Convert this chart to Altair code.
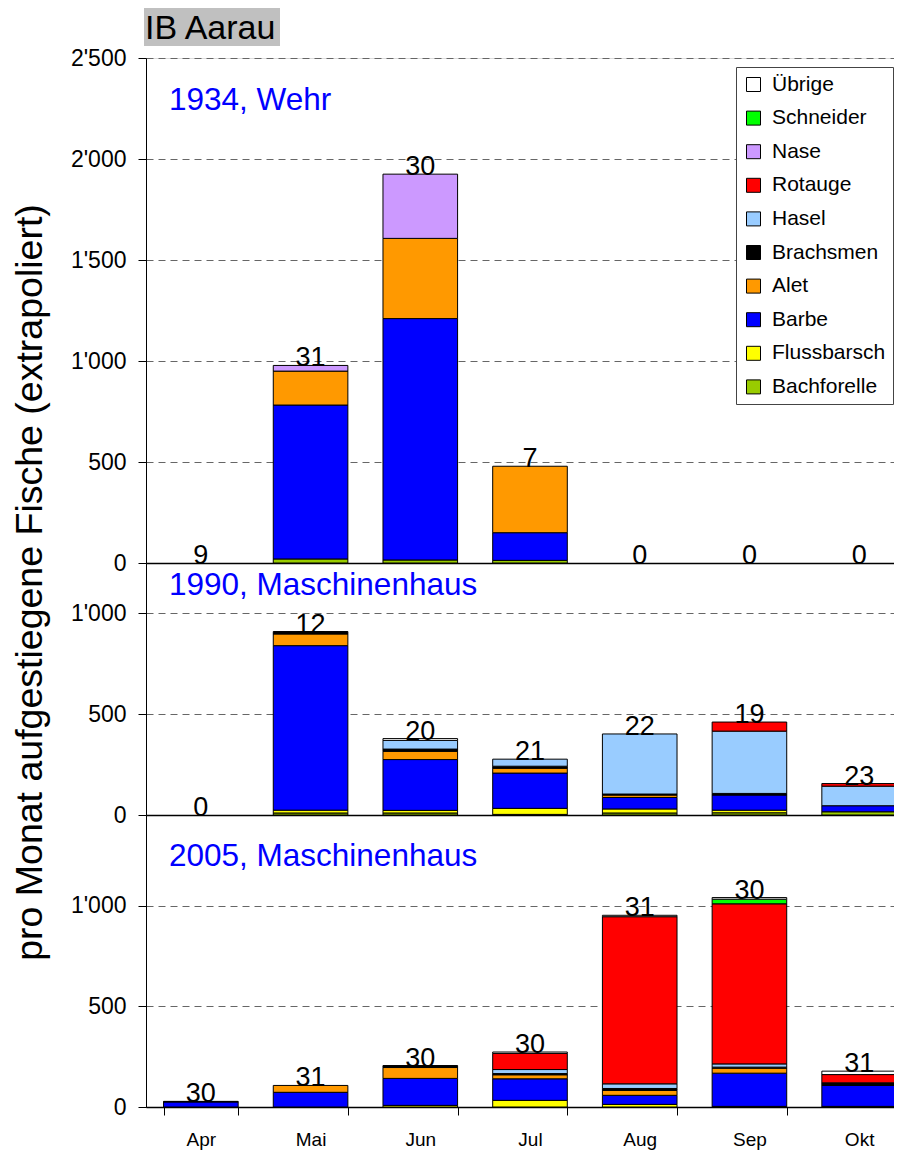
import altair as alt
import pandas as pd

months = ["Apr", "Mai", "Jun", "Jul", "Aug", "Sep", "Okt"]
species = ["Übrige", "Schneider", "Nase", "Rotauge", "Hasel", "Brachsmen",
           "Alet", "Barbe", "Flussbarsch", "Bachforelle"]
colors = ["#FFFFFF", "#00FF00", "#CC99FF", "#FF0000", "#99CCFF", "#000000",
          "#FF9900", "#0000FF", "#FFFF00", "#99CC00"]

# 1934, Wehr
fish_1934 = {
    "Bachforelle": [0, 20, 15, 13, 0, 0, 0],
    "Flussbarsch": [0, 0, 0, 0, 0, 0, 0],
    "Barbe":       [0, 762, 1195, 137, 0, 0, 0],
    "Alet":        [0, 168, 397, 329, 0, 0, 0],
    "Brachsmen":   [0, 0, 0, 0, 0, 0, 0],
    "Hasel":       [0, 0, 0, 0, 0, 0, 0],
    "Rotauge":     [0, 0, 0, 0, 0, 0, 0],
    "Nase":        [0, 28, 318, 0, 0, 0, 0],
    "Schneider":   [0, 0, 0, 0, 0, 0, 0],
    "Übrige":      [0, 0, 0, 0, 0, 0, 0],
}
days_1934 = [9, 31, 30, 7, 0, 0, 0]

# 1990, Maschinenhaus
fish_1990 = {
    "Bachforelle": [0, 10, 10, 3, 10, 11, 16],
    "Flussbarsch": [0, 14, 13, 30, 20, 13, 0],
    "Barbe":       [0, 816, 252, 175, 57, 75, 30],
    "Alet":        [0, 58, 41, 24, 12, 0, 0],
    "Brachsmen":   [0, 12, 11, 10, 5, 8, 0],
    "Hasel":       [0, 0, 43, 35, 298, 309, 97],
    "Rotauge":     [0, 0, 0, 0, 0, 45, 13],
    "Nase":        [0, 0, 0, 0, 0, 0, 0],
    "Schneider":   [0, 0, 0, 0, 0, 0, 0],
    "Übrige":      [0, 0, 9, 0, 0, 0, 0],
}
days_1990 = [0, 12, 20, 21, 22, 19, 23]

# 2005, Maschinenhaus
fish_2005 = {
    "Bachforelle": [0, 0, 0, 0, 0, 3, 3],
    "Flussbarsch": [0, 0, 8, 33, 13, 0, 0],
    "Barbe":       [25, 73, 134, 107, 45, 165, 104],
    "Alet":        [0, 34, 54, 20, 24, 25, 0],
    "Brachsmen":   [3, 0, 10, 6, 10, 5, 13],
    "Hasel":       [0, 0, 0, 20, 23, 16, 0],
    "Rotauge":     [0, 0, 0, 80, 830, 795, 41],
    "Nase":        [0, 0, 0, 0, 0, 0, 0],
    "Schneider":   [0, 0, 0, 0, 0, 23, 0],
    "Übrige":      [0, 0, 0, 7, 7, 8, 17],
}
days_2005 = [30, 31, 30, 30, 31, 30, 31]

panel_titles = ["1934, Wehr", "1990, Maschinenhaus", "2005, Maschinenhaus"]
y_title = "pro Monat aufgestiegene Fische (extrapoliert)"
main_title = "IB Aarau"

stack_order = list(reversed(species))  # Bachforelle at bottom


def make_df(fish, days):
    rows = []
    for sp in stack_order:
        for i, m in enumerate(months):
            rows.append({"month": m, "species": sp, "value": fish[sp][i],
                         "order": stack_order.index(sp), "days": days[i]})
    return pd.DataFrame(rows)


FONT = "Liberation Sans"

# bands ~110px wide; the last band runs past the visible right edge as in the reference
xscale = alt.Scale(domain=months, range=[0, 768], paddingInner=0.32, paddingOuter=0.16)
xaxis = alt.Axis(title=None, tickBand="extent", ticks=True, tickSize=8, tickColor="black",
                 domainColor="black", labelFontSize=19, labelFont=FONT, labelColor="black",
                 labelPadding=15, labelAngle=0, grid=False)

legend = alt.Legend(orient="none", legendX=590, legendY=9, title=None, fillColor="white",
                    strokeColor="#444444", padding=7, rowPadding=11.6, symbolType="square",
                    symbolSize=196, symbolStrokeColor="black", symbolStrokeWidth=1,
                    symbolOpacity=1, labelFontSize=21, labelFont=FONT, labelColor="black",
                    labelOffset=8, cornerRadius=0)
cscale = alt.Scale(domain=species, range=colors)


def make_axis(values, with_title):
    kw = dict(values=values, orient="left", format=",d",
              labelExpr="replace(datum.label, ',', \"'\")",
              labelFontSize=23, labelFont=FONT, labelColor="black", labelPadding=12,
              tickSize=8, tickColor="black", domainColor="black",
              grid=True,
              gridDash={"condition": {"test": "datum.value === 0", "value": []}, "value": [7, 5]},
              gridColor={"condition": {"test": "datum.value === 0", "value": "#000000"}, "value": "#666666"},
              gridWidth={"condition": {"test": "datum.value === 0", "value": 1.5}, "value": 1})
    if with_title:
        kw.update(title=y_title, titleFontSize=37.5, titleFont=FONT, titleFontWeight="normal",
                  titleColor="black", titleAngle=270, titleX=-105, titleY=524,
                  titleAlign="center", titleBaseline="alphabetic")
    else:
        kw.update(title=None)
    return alt.Axis(**kw)


def panel(fish, days, dmax, rng, values, title, title_y, with_title):
    df = make_df(fish, days)
    yscale = alt.Scale(domain=[0, dmax], range=rng, nice=False, zero=True)
    yaxis = make_axis(values, with_title)
    base = alt.Chart(df)
    bars = base.transform_filter("datum.value > 0").mark_bar(
        stroke="black", strokeWidth=1).encode(
        x=alt.X("month:N", sort=months, scale=xscale, axis=xaxis),
        y=alt.Y("value:Q", stack="zero", scale=yscale, axis=yaxis),
        color=alt.Color("species:N", scale=cscale, legend=legend),
        order=alt.Order("order:Q", sort="ascending"),
    )
    labels = base.mark_text(fontSize=27, font=FONT, baseline="alphabetic", dy=1,
                            align="center", color="black").encode(
        x=alt.X("month:N", sort=months, scale=xscale, axis=xaxis),
        y=alt.Y("sum(value):Q", scale=yscale, axis=yaxis),
        text=alt.Text("max(days):Q"),
    )
    ptitle = alt.Chart(pd.DataFrame({"t": [title]})).mark_text(
        fontSize=31.5, font=FONT, color="#0000FF", align="left", baseline="alphabetic").encode(
        x=alt.value(23), y=alt.value(title_y), text="t:N")
    return alt.layer(bars, labels, ptitle)


p1 = panel(fish_1934, days_1934, 2500, [505, 0], [0, 500, 1000, 1500, 2000, 2500],
           panel_titles[0], 52, True)
p2 = panel(fish_1990, days_1990, 1250, [757, 505], [0, 500, 1000],
           panel_titles[1], 537, False)
p3 = panel(fish_2005, days_2005, 1450, [1049, 757], [0, 500, 1000],
           panel_titles[2], 808, False)

tdf = pd.DataFrame({"t": [main_title]})
title_box = alt.Chart(tdf).mark_rect(color="#C0C0C0").encode(
    x=alt.value(-2), x2=alt.value(134), y=alt.value(-52), y2=alt.value(-12))
title_text = alt.Chart(tdf).mark_text(fontSize=34, font=FONT, color="black",
                                      align="left", baseline="alphabetic").encode(
    x=alt.value(-1), y=alt.value(-19), text="t:N")

chart = alt.layer(p1, p2, p3, title_box, title_text).resolve_scale(
    y="independent").resolve_axis(y="independent").properties(
    width=748, height=1049,
    padding={"left": 138, "top": 50, "right": 0, "bottom": 43},
    autosize=alt.AutoSizeParams(type="none"),
).configure_view(stroke=None).configure(font=FONT, background="white")

chart.save("out.html", embed_options={"renderer": "svg", "actions": False})
